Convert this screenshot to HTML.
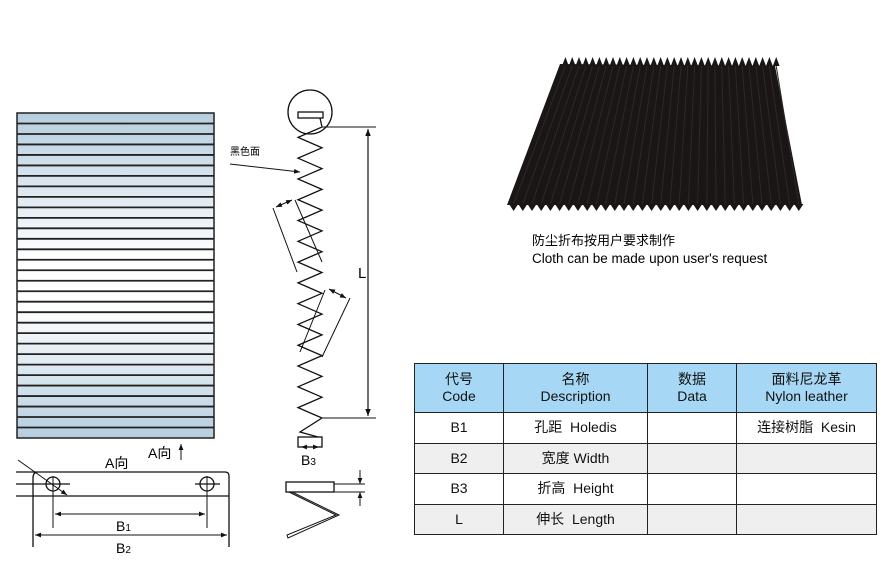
<!DOCTYPE html>
<html><head><meta charset="utf-8"><style>
body{margin:0;background:#fff;width:890px;height:572px;overflow:hidden;position:relative;font-family:"Liberation Sans","Noto Sans CJK SC",sans-serif}
svg{position:absolute;left:0;top:0}
table{position:absolute;left:414px;top:363px;border-collapse:collapse;font-size:14px;color:#111}
td{border:1.5px solid #222;text-align:center;padding:0;line-height:17px}
tr.h td{background:#a6d8f5;height:48px}
tr.r td{height:29.5px}
tr.g td{background:#efefef}
</style></head><body>
<svg width="890" height="572" viewBox="0 0 890 572">
<defs>
<linearGradient id="bg" x1="0" y1="0" x2="0" y2="1">
<stop offset="0" stop-color="#b5cedf"/><stop offset="0.45" stop-color="#fff"/><stop offset="0.6" stop-color="#fff"/><stop offset="1" stop-color="#b5cedf"/>
</linearGradient>
<marker id="a" viewBox="0 0 10 10" refX="10" refY="5" markerWidth="6" markerHeight="6" orient="auto-start-reverse"><path d="M0,1 L10,5 L0,9z" fill="#111"/></marker>
</defs>
<rect x="17" y="113" width="197" height="325" fill="url(#bg)" stroke="#222" stroke-width="1.5"/>
<g stroke="#222" stroke-width="1.8" id="stripes"></g>
<circle cx="310" cy="112" r="22" fill="none" stroke="#111" stroke-width="1.3"/>
<rect x="298" y="112" width="25" height="6" fill="none" stroke="#111" stroke-width="1.3"/>
<polyline id="zz" fill="none" stroke="#111" stroke-width="1.3" points=""/>
<line x1="322" y1="127" x2="376" y2="127" stroke="#111"/>
<line x1="322" y1="418" x2="376" y2="418" stroke="#111"/>
<line x1="368" y1="129" x2="368" y2="416" stroke="#111" stroke-width="1.2" marker-start="url(#a)" marker-end="url(#a)"/>
<text x="358" y="278" font-size="15">L</text>
<text x="230" y="155" font-size="10">黑色面</text>
<line x1="230" y1="164" x2="300" y2="172" stroke="#111" marker-end="url(#a)"/>
<line x1="273" y1="208" x2="297" y2="272" stroke="#111"/>
<line x1="295" y1="200" x2="322" y2="262" stroke="#111"/>
<line x1="276" y1="207" x2="292" y2="200" stroke="#111" marker-start="url(#a)" marker-end="url(#a)"/>
<line x1="350" y1="298" x2="322" y2="357" stroke="#111"/>
<line x1="325" y1="290" x2="300" y2="352" stroke="#111"/>
<line x1="329" y1="289" x2="346" y2="298" stroke="#111" marker-start="url(#a)" marker-end="url(#a)"/>
<rect x="298" y="437" width="24" height="10" fill="none" stroke="#111" stroke-width="1.3"/>
<line x1="301" y1="447" x2="319" y2="447" stroke="#111" marker-start="url(#a)" marker-end="url(#a)"/>
<text x="301" y="465" font-size="14">B<tspan font-size="10">3</tspan></text>
<rect x="286" y="482" width="48" height="10" fill="none" stroke="#111" stroke-width="1.3"/>
<line x1="334" y1="484" x2="365" y2="484" stroke="#111"/>
<line x1="334" y1="492" x2="365" y2="492" stroke="#111"/>
<line x1="360" y1="470" x2="360" y2="484" stroke="#111" marker-end="url(#a)"/>
<line x1="360" y1="506" x2="360" y2="492" stroke="#111" marker-end="url(#a)"/>
<polyline points="289,492 336,515 287,535 288,538 339,515 292,492" fill="none" stroke="#111"/>
<text x="105" y="468" font-size="14">A向</text>
<text x="148" y="458" font-size="14">A向</text>
<line x1="181" y1="460" x2="181" y2="444" stroke="#111" marker-end="url(#a)"/>
<path d="M16,472 H225 Q229,472 229,476 V547 M33,547 V478 Q33,472 38,472 M16,496 H229 M16,484 H70 M195,484 H220" fill="none" stroke="#111" stroke-width="1.3"/>
<circle cx="53" cy="484" r="7" fill="none" stroke="#111" stroke-width="1.3"/>
<circle cx="207" cy="484" r="7" fill="none" stroke="#111" stroke-width="1.3"/>
<line x1="18" y1="460" x2="67" y2="495" stroke="#111" marker-end="url(#a)"/>
<line x1="53" y1="476" x2="53" y2="528" stroke="#111"/>
<line x1="207" y1="476" x2="207" y2="528" stroke="#111"/>
<line x1="55" y1="514" x2="205" y2="514" stroke="#111" marker-start="url(#a)" marker-end="url(#a)"/>
<line x1="35" y1="535" x2="227" y2="535" stroke="#111" marker-start="url(#a)" marker-end="url(#a)"/>
<text x="116" y="531" font-size="14">B<tspan font-size="10">1</tspan></text>
<text x="116" y="553" font-size="14">B<tspan font-size="10">2</tspan></text>
<polygon points="560,64 775,66 802,205 507,205" fill="#1a1616"/>
<g id="teeth" fill="#1a1616"></g>
<g id="pl" stroke="#2e2828" stroke-width="1"></g>
<text x="532" y="245" font-size="13">防尘折布按用户要求制作</text>
<text x="532" y="263" font-size="13.5">Cloth can be made upon user's request</text>
</svg>
<table>
<colgroup><col style="width:89px"><col style="width:144px"><col style="width:89px"><col style="width:140px"></colgroup>
<tr class="h"><td>代号<br>Code</td><td>名称<br>Description</td><td>数据<br>Data</td><td>面料尼龙革<br>Nylon leather</td></tr>
<tr class="r"><td>B1</td><td>孔距&nbsp; Holedis</td><td></td><td>连接树脂&nbsp; Kesin</td></tr>
<tr class="r g"><td>B2</td><td>宽度 Width</td><td></td><td></td></tr>
<tr class="r"><td>B3</td><td>折高&nbsp; Height</td><td></td><td></td></tr>
<tr class="r g"><td>L</td><td>伸长&nbsp; Length</td><td></td><td></td></tr>
</table>
<script>
var s='',g=document.getElementById('stripes');
for(var i=1;i<31;i++){var y=113+i*325/31;s+='<line x1="17" x2="214" y1="'+y+'" y2="'+y+'"/>';}
g.innerHTML=s;
var p='320,118 ';for(var j=0;j<=28;j++){var y=127+j*291/28;p+=(j%2?298:322)+','+y+' ';}p+='300,432 318,437';
document.getElementById('zz').setAttribute('points',p);
var t='',l='';for(var k=0;k<32;k++){var x=562+k*6.8;t+='<polygon points="'+x+',66 '+(x+3.4)+',57 '+(x+6.8)+',66"/>';var xb=509+k*9.2;t+='<polygon points="'+xb+',204 '+(xb+4.6)+',211 '+(xb+9.2)+',204"/>';l+='<line x1="'+(x+3.4)+'" y1="66" x2="'+(xb+4.6)+'" y2="204"/>';}
document.getElementById('teeth').innerHTML=t;
document.getElementById('pl').innerHTML=l;
</script>
</body></html>
